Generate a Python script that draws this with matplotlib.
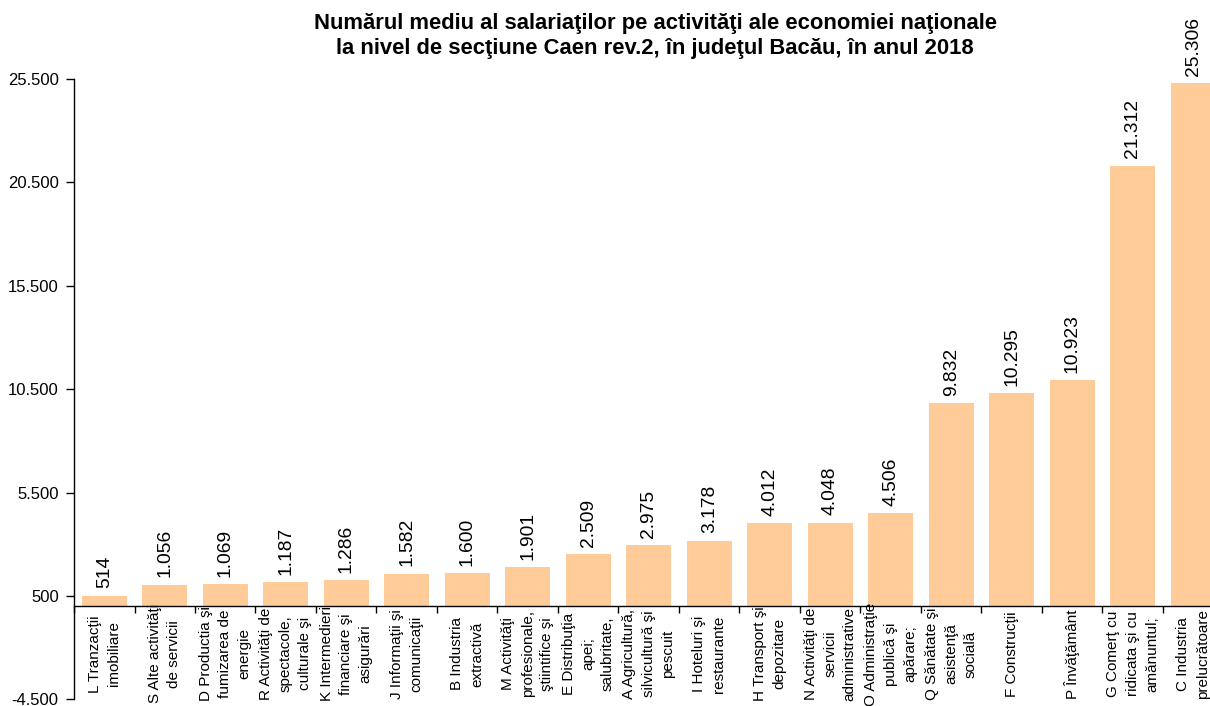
import matplotlib
matplotlib.use("Agg")
import matplotlib.pyplot as plt
from matplotlib.ticker import FuncFormatter

plt.rcParams['font.family'] = ['Liberation Sans', 'DejaVu Sans']

categories = [
    "L Tranzacţii\nimobiliare",
    "S Alte activităţi\nde servicii",
    "D Productia şi\nfumizarea de\nenergie",
    "R Activităţi de\nspectacole,\nculturale şi",
    "K Intermedieri\nfinanciare şi\nasigurări",
    "J Informaţii şi\ncomunicaţii",
    "B Industria\nextractivă",
    "M Activităţi\nprofesionale,\nştiintifice şi",
    "E Distribuţia\napei;\nsalubritate,",
    "A Agricultură,\nsilvicultură şi\npescuit",
    "I Hoteluri şi\nrestaurante",
    "H Transport şi\ndepozitare",
    "N Activităţi de\nservicii\nadministrative",
    "O Administraţie\npublică şi\napărare;",
    "Q Sănătate şi\nasistenţă\nsocială",
    "F Construcţii",
    "P Învăţământ",
    "G Comerţ cu\nridicata şi cu\namănuntul;",
    "C Industria\nprelucrătoare",
]
values = [514, 1056, 1069, 1187, 1286, 1582, 1600, 1901, 2509, 2975,
          3178, 4012, 4048, 4506, 9832, 10295, 10923, 21312, 25306]
yticks = [-4500, 500, 5500, 10500, 15500, 20500, 25500]
title = ("Numărul mediu al salariaţilor pe activităţi ale economiei naţionale\n"
         "la nivel de secţiune Caen rev.2, în judeţul Bacău, în anul 2018")


def dotfmt(v):
    return f"{int(round(v)):,}".replace(",", ".")


fig = plt.figure(figsize=(12.10, 7.06), dpi=100)
ax = fig.add_axes([74 / 1210, 1 - 699.4 / 706, (1223.5 - 74) / 1210, (699.4 - 79) / 706])

n = len(values)
x = list(range(n))
ax.bar(x, values, width=0.74, color='#FFCC99', edgecolor='none', zorder=2)

ax.set_xlim(-0.5, n - 0.5)
ax.set_ylim(-4500, 25500)
ax.set_yticks(yticks)
ax.yaxis.set_major_formatter(FuncFormatter(lambda v, p: dotfmt(v)))
ax.tick_params(axis='y', direction='out', length=6, width=1, labelsize=12, pad=5)

ax.spines['top'].set_visible(False)
ax.spines['right'].set_visible(False)
ax.spines['bottom'].set_position(('data', 0))
ax.spines['bottom'].set_linewidth(1)
ax.spines['left'].set_linewidth(1)
ax.set_xticks([k - 0.5 for k in range(n + 1)])
ax.set_xticklabels([])
ax.tick_params(axis='x', direction='out', length=5, width=1)

for xi, v in zip(x, values):
    ax.text(xi, v + 350, dotfmt(v), rotation=90, ha='center', va='bottom',
            fontsize=13.9, color='black')

for xi, lab in zip(x, categories):
    ax.text(xi, -2300, lab, rotation=90, ha='center', va='center',
            multialignment='center', fontsize=11, linespacing=1.5,
            clip_on=False)

fig.text(655 / 1210, 1 - 36 / 706, title, ha='center', va='center',
         fontsize=15.8, fontweight='bold', linespacing=1.2)

fig.savefig("out.png", dpi=100)
